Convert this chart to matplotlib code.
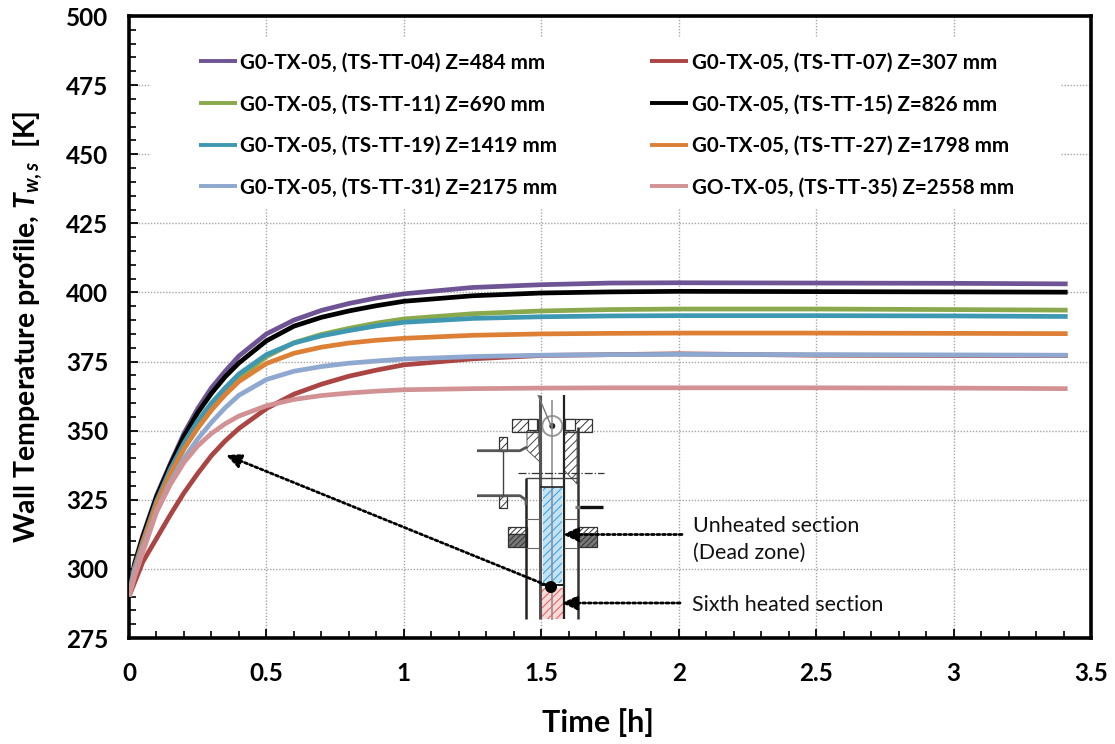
import matplotlib
matplotlib.use('Agg')
import matplotlib.pyplot as plt
from matplotlib.patches import Rectangle, Circle, Polygon
from matplotlib.ticker import MultipleLocator

plt.rcParams['font.family'] = ['Lato', 'DejaVu Sans']
plt.rcParams['mathtext.fontset'] = 'custom'
plt.rcParams['mathtext.it'] = 'Lato:italic:bold'
plt.rcParams['mathtext.rm'] = 'Lato:bold'
plt.rcParams['hatch.linewidth'] = 0.7

# time [h], values
t = [0, .02, .05, .1, .15, .2, .25, .3, .35, .4, .5, .6, .7, .8, .9, 1, 1.25, 1.5, 1.75, 2, 2.5, 3, 3.415]

tt04 = [290, 302, 312, 326.5, 338, 349, 358, 365.5, 371.5, 377, 385, 390, 393.5, 396, 398, 399.5, 401.8, 402.8, 403.4, 403.5, 403.4, 403.3, 403.1]
tt07 = [290, 295, 302.5, 311, 319.5, 327.5, 334.5, 341, 346.3, 350.8, 358, 363.2, 366.8, 369.7, 371.9, 373.8, 376, 377.2, 377.5, 377.8, 377.3, 377.2, 377.2]
tt11 = [290, 300, 309, 323, 334, 343.5, 351, 357.5, 363.5, 369, 376.8, 381.8, 384.8, 387, 388.9, 390.4, 392.3, 393.3, 393.8, 394, 394, 393.8, 393.6]
tt15 = [290, 301.5, 311.5, 326, 337.5, 348, 356.5, 363.5, 369.5, 374.5, 382.5, 387.8, 391, 393.3, 395.2, 396.8, 398.8, 399.8, 400.2, 400.4, 400.3, 400.2, 400.1]
tt19 = [290, 300.5, 310, 324.5, 336, 345.5, 353.5, 360, 365.5, 370.5, 377.5, 381.7, 384.3, 386.2, 387.9, 389.2, 390.6, 391.2, 391.5, 391.6, 391.6, 391.5, 391.3]
tt27 = [290, 300, 309.5, 323.5, 334.5, 343.5, 351, 357.5, 363, 367.8, 374.3, 378, 380.2, 381.7, 382.7, 383.4, 384.5, 385, 385.2, 385.3, 385.3, 385.2, 385.1]
tt31 = [290, 299, 307.5, 321, 331.5, 340, 347, 353, 358.3, 362.8, 368.5, 371.5, 373.2, 374.4, 375.2, 375.9, 376.8, 377.3, 377.5, 377.6, 377.5, 377.4, 377.3]
tt35 = [290, 297, 306, 320.5, 330.5, 338.5, 344.5, 349, 352.5, 355.3, 359, 361.3, 362.7, 363.6, 364.3, 364.8, 365.2, 365.4, 365.5, 365.5, 365.5, 365.4, 365.2]

series = [
    (tt04, '#6f5495', 'G0-TX-05, (TS-TT-04) Z=484 mm'),
    (tt11, '#8aa84c', 'G0-TX-05, (TS-TT-11) Z=690 mm'),
    (tt19, '#3f98b2', 'G0-TX-05, (TS-TT-19) Z=1419 mm'),
    (tt31, '#8fa8cf', 'G0-TX-05, (TS-TT-31) Z=2175 mm'),
    (tt07, '#aa4543', 'G0-TX-05, (TS-TT-07) Z=307 mm'),
    (tt15, '#000000', 'G0-TX-05, (TS-TT-15) Z=826 mm'),
    (tt27, '#dd8036', 'G0-TX-05, (TS-TT-27) Z=1798 mm'),
    (tt35, '#d29294', 'GO-TX-05, (TS-TT-35) Z=2558 mm'),
]
draw_order = [4, 0, 5, 1, 2, 6, 3, 7]

W, H = 1115, 744
fig = plt.figure(figsize=(W / 100, H / 100), dpi=100)
ax = fig.add_axes([129 / W, 1 - 638 / H, (1091 - 129) / W, (638 - 16) / H])

handles = {}
for i in draw_order:
    y, c, lab = series[i]
    handles[i], = ax.plot(t, y, color=c, lw=3.4, label=lab, zorder=3, solid_capstyle='butt')

ax.set_xlim(0, 3.5)
ax.set_ylim(275, 500)
ax.xaxis.set_major_locator(MultipleLocator(0.5))
ax.xaxis.set_minor_locator(MultipleLocator(0.1))
ax.yaxis.set_major_locator(MultipleLocator(25))
ax.yaxis.set_minor_locator(MultipleLocator(5))
ax.xaxis.set_major_formatter(lambda v, p: f'{v:g}')
ax.grid(True, which='major', color='#a6a6a6', ls=(0, (1, 1.2)), lw=1.0)
ax.set_axisbelow(True)
ax.tick_params(which='major', direction='in', length=6.5, width=1.3, labelsize=17.5)
ax.tick_params(axis='x', which='major', pad=17)
ax.tick_params(axis='y', which='major', pad=15)
ax.tick_params(which='minor', direction='in', length=5, width=1.2)
for lab in ax.get_xticklabels() + ax.get_yticklabels():
    lab.set_fontweight('bold')
for s in ax.spines.values():
    s.set_linewidth(2.6)
ax.set_xlabel('Time [h]', fontsize=22, fontweight='bold', labelpad=17, x=0.4875)
ax.set_ylabel(r'Wall Temperature profile, $T_{w,s}$  [K]', fontsize=20.5, fontweight='bold', labelpad=15)

# white area behind the legend hides the grid
ax.add_patch(Rectangle((0.08, 430.5), 3.31, 61.5, fc='white', ec='none', zorder=1))

leg = ax.legend(handles=[handles[i] for i in range(8)], ncol=2, frameon=False,
                prop={'size': 14.85, 'weight': 'bold'}, loc='upper left',
                bbox_to_anchor=(70 / 962, 1 - 36.5 / 622), borderaxespad=0, borderpad=0,
                handlelength=1.85, handletextpad=0.15, labelspacing=1.05, columnspacing=4.5)
for h in leg.get_lines():
    h.set_linewidth(2.8)

# overlay in pixel units for the test section sketch
ov = fig.add_axes([0, 0, 1, 1])
ov.set_xlim(0, W)
ov.set_ylim(H, 0)
ov.axis('off')
ov.patch.set_alpha(0)


def seg(x, y, c='#222222', lw=1.2, **kw):
    ov.plot(x, y, color=c, lw=lw, solid_capstyle='butt', **kw)


def box(x0, y0, x1, y1, fc='none', ec='#333333', hatch=None, lw=0.9):
    ov.add_patch(Rectangle((x0, y0), x1 - x0, y1 - y0, fc=fc, ec=ec, hatch=hatch, lw=lw))


# heated / unheated sections
box(542.5, 487, 562, 583, fc='#bfe3f7', ec='#3b9bd9', hatch='////', lw=0)
box(542, 588, 563, 619, fc='#fbd9d6', ec='#e05a5a', hatch='////', lw=0)

# walls
seg([540, 540], [395, 619], c='#555555', lw=2.2)
seg([563.5, 563.5], [395, 619], c='#222222', lw=1.6)
seg([526, 526], [478, 619], c='#222222', lw=1.8)
seg([577.5, 577.5], [427, 619], c='#333333', lw=1.8)
seg([552.3, 552.3], [400, 620], c='#888888', lw=1.1)
seg([526, 577], [478, 478], c='#444444', lw=1)
seg([540, 563], [487, 487], c='#222222', lw=1.2)
seg([540, 563], [585, 585], c='#222222', lw=1.5)
seg([518, 604], [473, 473], c='#333333', lw=0.9, ls='-.')
seg([526, 540], [519, 519], c='#666666', lw=0.8)
seg([526, 540], [548, 548], c='#666666', lw=0.8)
seg([564, 577], [519, 519], c='#666666', lw=0.8)
seg([564, 577], [548, 548], c='#666666', lw=0.8)
seg([538, 552], [395, 428], c='#777777', lw=1)

# flanges
box(512, 419, 538, 432, hatch='////')
box(564, 419, 592, 432, hatch='////')
box(528, 419, 537, 430, fc='white')
box(565, 419, 575, 430, fc='white')
ov.add_patch(Polygon([(564, 432), (577, 432), (577, 484), (564, 470)], fc='none', ec='#444444', hatch='////', lw=0.6))
ov.add_patch(Polygon([(527, 432), (538, 432), (540, 462), (527, 450)], fc='none', ec='#444444', hatch='////', lw=0.6))
ov.add_patch(Circle((552.3, 426), 10, fc='white', ec='#999999', lw=1.4))
ov.add_patch(Circle((552.3, 426), 3, fc='#222222', ec='none'))

# side nozzles
seg([477, 520, 527], [450.7, 450.7, 447], c='#555555', lw=2)
seg([477, 520, 526, 526], [495.7, 495.7, 500, 505], c='#555555', lw=2)
box(499, 437, 507, 451, hatch='////')
box(499, 496, 507, 508, hatch='////')
seg([503, 503], [451, 496], c='#444444', lw=1)

# lower flanges
box(508, 527, 527, 534, fc='white', hatch='//////')
box(578, 527, 597, 534, fc='white', hatch='//////')
box(508, 534, 527, 547, fc='#777777', hatch='//////')
box(578, 534, 597, 547, fc='#777777', hatch='//////')

# thermocouple connector
seg([575, 590], [507, 507], c='#777777', lw=2.2)
seg([580, 603], [507, 507], c='#111111', lw=2.4)

ov.add_patch(Circle((551, 587), 6, fc='black', ec='none', zorder=6))

dots = (0, (1, 1))
head = '-|>,head_length=0.9,head_width=0.42'
for tip, tail in [((226, 455), (551, 587)), ((563, 534.5), (682, 534.5)), ((562, 603), (680, 603))]:
    ov.annotate('', xy=tip, xytext=tail, zorder=5,
                arrowprops=dict(arrowstyle=head, color='black', lw=2, ls=dots, shrinkA=0, shrinkB=0))

ov.text(693, 526, 'Unheated section', fontsize=15.4, va='center', color='#111111')
ov.text(693, 553, '(Dead zone)', fontsize=15.4, va='center', color='#111111')
ov.text(692, 605, 'Sixth heated section', fontsize=15.4, va='center', color='#111111')

fig.savefig('out.png', dpi=100)
